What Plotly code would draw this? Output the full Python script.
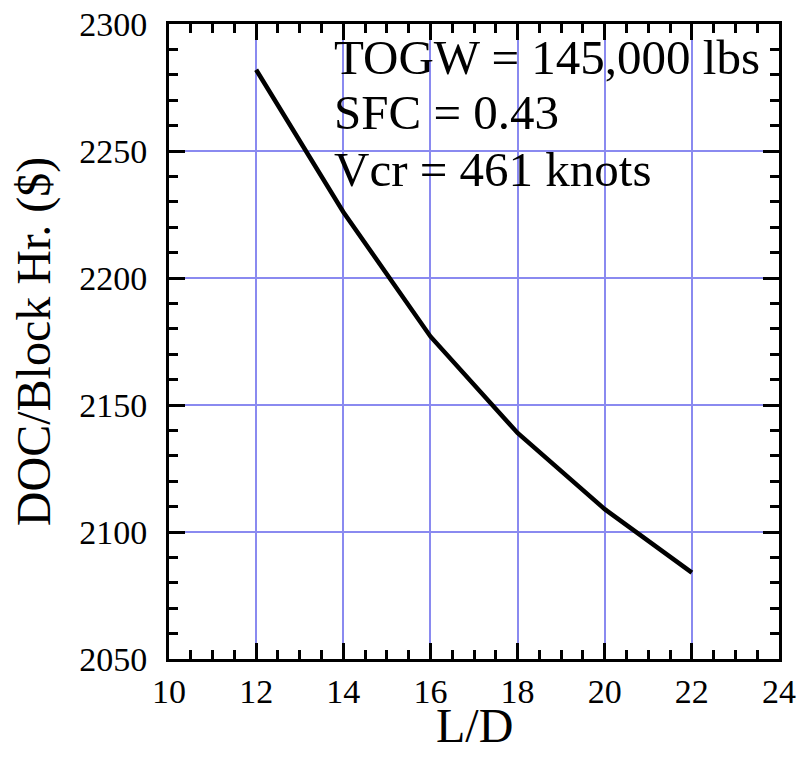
import plotly.graph_objects as go

ld = [12, 14, 16, 18, 20, 22]
doc = [2282, 2226, 2177, 2139, 2109, 2084]

notes = ["TOGW = 145,000 lbs", "SFC = 0.43", "Vcr = 461 knots"]
note_y = [2287, 2265, 2242.8]

FONT = "Liberation Serif"
GRID = "#8a8af0"

fig = go.Figure()
fig.add_trace(go.Scatter(x=ld, y=doc, mode="lines",
                         line=dict(color="black", width=4.5), showlegend=False))

# white box behind the notes (covers grid, below ticks)
fig.add_shape(type="rect", xref="x", yref="y", x0=13.77, x1=24, y0=2230, y1=2300,
              fillcolor="white", line=dict(width=0), layer="below")

for t, yy in zip(notes, note_y):
    fig.add_annotation(x=13.74, y=yy, xref="x", yref="y", text=t, showarrow=False,
                       xanchor="left", yanchor="middle",
                       font=dict(family=FONT, size=49, color="black"))

# x-axis title placed as annotation for exact vertical position
fig.add_annotation(x=0.5, y=-0.104, xref="paper", yref="paper", text="L/D", showarrow=False,
                   xanchor="center", yanchor="middle",
                   font=dict(family=FONT, size=48, color="black"))

axis_common = dict(
    showline=True, linecolor="black", linewidth=3, mirror="ticks",
    ticks="inside", ticklen=16, tickwidth=2.5, tickcolor="black",
    showgrid=True, gridcolor=GRID, gridwidth=2, zeroline=False,
    tickfont=dict(family=FONT, size=34, color="black"),
    ticklabeloverflow="allow",
)

fig.update_xaxes(range=[10, 24], tick0=10, dtick=2,
                 minor=dict(ticks="inside", ticklen=9, tickwidth=2.5, tickcolor="black", dtick=0.5, showgrid=False),
                 ticklabelstandoff=0, **axis_common)
fig.update_yaxes(range=[2050, 2300], tick0=2050, dtick=50,
                 minor=dict(ticks="inside", ticklen=9, tickwidth=2.5, tickcolor="black", dtick=10, showgrid=False),
                 title=dict(text="DOC/Block Hr. ($)", font=dict(family=FONT, size=48, color="black"), standoff=14),
                 ticklabelstandoff=12, **axis_common)

fig.update_layout(width=800, height=763, plot_bgcolor="white", paper_bgcolor="white",
                  margin=dict(l=169, r=21, t=24, b=104, autoexpand=False))

# remove the default 8px body margin so the figure fills the window exactly
fig.write_html("out.html", config={"displayModeBar": False},
               post_script="document.body.style.margin='0';document.body.style.overflow='hidden';")
